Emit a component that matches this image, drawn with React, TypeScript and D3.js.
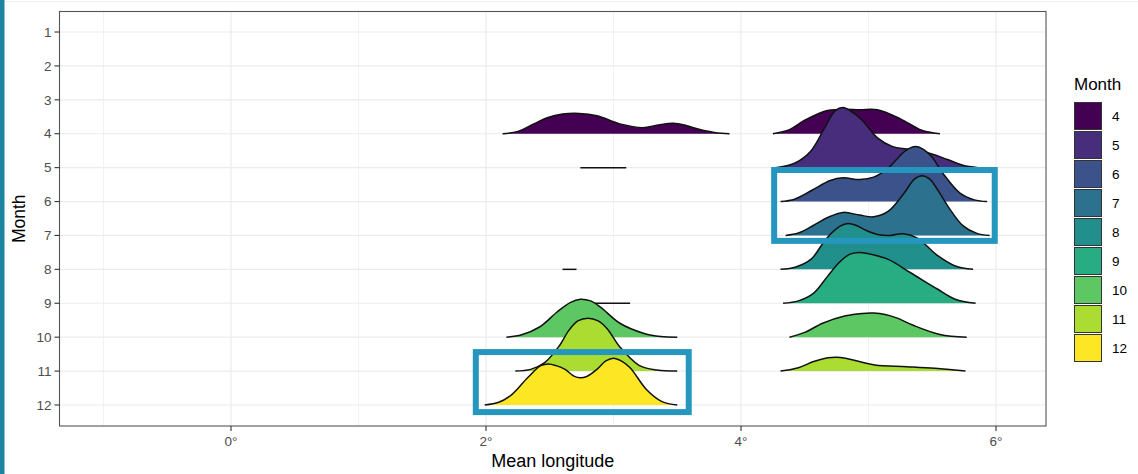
import React from "react";
import * as d3 from "d3";

// ---------- data ----------
const yLabels = ["1", "2", "3", "4", "5", "6", "7", "8", "9", "10", "11", "12"];
const legendMonths = [4, 5, 6, 7, 8, 9, 10, 11, 12];
const xMajorTicks = [0, 2, 4, 6];
const xMinorTicks = [-1, 1, 3, 5];

// each ridge: [longitude (deg), height (in month-row units)]
const m4Left: [number, number][] = [[2.13, 0], [2.25, 0.07], [2.38, 0.3], [2.48, 0.47], [2.6, 0.58], [2.73, 0.6], [2.87, 0.53], [3.05, 0.29], [3.23, 0.18], [3.35, 0.26], [3.47, 0.31], [3.57, 0.24], [3.67, 0.13], [3.8, 0.03], [3.91, 0]];
const m4Right: [number, number][] = [[4.25, 0], [4.38, 0.12], [4.5, 0.4], [4.67, 0.68], [4.8, 0.72], [4.93, 0.71], [5.07, 0.71], [5.25, 0.44], [5.4, 0.13], [5.5, 0.03], [5.56, 0]];
const m5Left: [number, number][] = [[2.74, 0], [3.1, 0]];
const m5Right: [number, number][] = [[4.27, 0], [4.42, 0.13], [4.55, 0.5], [4.66, 1.2], [4.74, 1.68], [4.8, 1.77], [4.86, 1.67], [4.95, 1.4], [5.07, 0.88], [5.19, 0.62], [5.3, 0.55], [5.44, 0.47], [5.62, 0.24], [5.74, 0.07], [5.86, 0]];
const m6Right: [number, number][] = [[4.31, 0], [4.42, 0.07], [4.56, 0.34], [4.7, 0.62], [4.8, 0.7], [4.93, 0.65], [5.04, 0.72], [5.15, 0.97], [5.26, 1.4], [5.32, 1.57], [5.37, 1.62], [5.42, 1.56], [5.5, 1.3], [5.58, 0.85], [5.72, 0.24], [5.83, 0.05], [5.93, 0]];
const m7Right: [number, number][] = [[4.35, 0], [4.45, 0.07], [4.57, 0.3], [4.68, 0.53], [4.8, 0.68], [4.93, 0.6], [5.04, 0.55], [5.15, 0.7], [5.27, 1.2], [5.36, 1.66], [5.42, 1.76], [5.48, 1.66], [5.55, 1.3], [5.63, 0.82], [5.74, 0.29], [5.85, 0.06], [5.95, 0]];
const m8Left: [number, number][] = [[2.6, 0], [2.71, 0]];
const m8Right: [number, number][] = [[4.31, 0], [4.43, 0.07], [4.55, 0.3], [4.67, 0.91], [4.78, 1.28], [4.84, 1.35], [4.9, 1.3], [4.98, 1.15], [5.07, 1.03], [5.17, 1.0], [5.27, 1.05], [5.38, 0.93], [5.54, 0.41], [5.68, 0.1], [5.82, 0]];
const m9Left: [number, number][] = [[2.72, 0], [3.13, 0]];
const m9Right: [number, number][] = [[4.33, 0], [4.45, 0.07], [4.57, 0.3], [4.68, 0.8], [4.77, 1.2], [4.85, 1.44], [4.92, 1.5], [5.0, 1.46], [5.15, 1.3], [5.33, 0.9], [5.54, 0.42], [5.68, 0.12], [5.84, 0]];
const m10Left: [number, number][] = [[2.16, 0], [2.28, 0.07], [2.42, 0.3], [2.56, 0.75], [2.66, 1.02], [2.74, 1.12], [2.82, 1.07], [2.9, 0.88], [3.05, 0.41], [3.24, 0.11], [3.37, 0.02], [3.5, 0]];
const m10Right: [number, number][] = [[4.38, 0], [4.5, 0.14], [4.64, 0.41], [4.82, 0.63], [4.95, 0.7], [5.04, 0.71], [5.13, 0.67], [5.22, 0.57], [5.35, 0.35], [5.56, 0.08], [5.77, 0]];
const m11Left: [number, number][] = [[2.23, 0], [2.35, 0.05], [2.46, 0.25], [2.57, 0.72], [2.65, 1.2], [2.72, 1.48], [2.8, 1.56], [2.88, 1.48], [2.95, 1.25], [3.05, 0.71], [3.2, 0.17], [3.34, 0.03], [3.5, 0]];
const m11Right: [number, number][] = [[4.31, 0], [4.45, 0.1], [4.57, 0.28], [4.68, 0.39], [4.75, 0.41], [4.82, 0.38], [4.92, 0.29], [5.05, 0.18], [5.3, 0.13], [5.52, 0.08], [5.76, 0]];
const m12Left: [number, number][] = [[1.99, 0], [2.1, 0.08], [2.2, 0.3], [2.33, 0.82], [2.43, 1.16], [2.49, 1.21], [2.55, 1.16], [2.62, 1.05], [2.69, 0.85], [2.74, 0.8], [2.79, 0.84], [2.87, 1.05], [2.94, 1.3], [3.0, 1.38], [3.06, 1.3], [3.13, 1.1], [3.26, 0.45], [3.38, 0.1], [3.5, 0]];

const ridgesByMonth: { month: number; groups: [number, number][][] }[] = [
  { month: 4, groups: [m4Left, m4Right] },
  { month: 5, groups: [m5Left, m5Right] },
  { month: 6, groups: [m6Right] },
  { month: 7, groups: [m7Right] },
  { month: 8, groups: [m8Left, m8Right] },
  { month: 9, groups: [m9Left, m9Right] },
  { month: 10, groups: [m10Left, m10Right] },
  { month: 11, groups: [m11Left, m11Right] },
  { month: 12, groups: [m12Left] },
];

// highlight boxes in data units: [lon0, lon1, month0, month1]
const highlightBoxes: [number, number, number, number][] = [
  [4.26, 5.99, 5.07, 7.16],
  [1.92, 3.59, 10.44, 12.21],
];

const viridis9 = ["#440154", "#472D7B", "#3B528B", "#2C728E", "#21908C", "#27AD81", "#5DC863", "#AADC32", "#FDE725"];

// ---------- layout ----------
const W = 1138;
const H = 474;
const panel = { left: 59.5, right: 1046, top: 11.5, bottom: 426 };
const FONT = "'Liberation Sans', Arial, Helvetica, sans-serif";

export default function App() {
  const x = d3.scaleLinear().domain([-1.345, 6.392]).range([panel.left, panel.right]);
  const y = d3.scaleLinear().domain([0.395, 12.62]).range([panel.top, panel.bottom]);
  const curve = d3.curveCatmullRom.alpha(0.5);

  const area = (month: number) =>
    d3
      .area<[number, number]>()
      .x((d) => x(d[0]))
      .y0(y(month))
      .y1((d) => y(month - d[1]))
      .curve(curve);
  const line = (month: number) =>
    d3
      .line<[number, number]>()
      .x((d) => x(d[0]))
      .y((d) => y(month - d[1]))
      .curve(curve);

  const colorFor = (m: number) => viridis9[legendMonths.indexOf(m)];

  return (
    <svg
      width={W}
      height={H}
      style={{ position: "absolute", left: 0, top: 0, background: "#fff" }}
      fontFamily={FONT}
    >
      <rect x={0} y={0} width={W} height={H} fill="#ffffff" />
      <line x1={5} x2={W} y1={1.5} y2={1.5} stroke="#f0f0f0" strokeWidth={1} />
      <rect x={0} y={0} width={4.5} height={H} fill="#1b84a0" />

      {/* gridlines */}
      {xMinorTicks.map((t) => (
        <line key={"mn" + t} x1={x(t)} x2={x(t)} y1={panel.top} y2={panel.bottom} stroke="#f2f2f2" strokeWidth={1} />
      ))}
      {xMajorTicks.map((t) => (
        <line key={"mj" + t} x1={x(t)} x2={x(t)} y1={panel.top} y2={panel.bottom} stroke="#ebebeb" strokeWidth={1.2} />
      ))}
      {yLabels.map((l, i) => (
        <line key={"hy" + l} x1={panel.left} x2={panel.right} y1={y(i + 1)} y2={y(i + 1)} stroke="#ebebeb" strokeWidth={1.2} />
      ))}

      {/* ridges */}
      {ridgesByMonth.map((r) => (
        <g key={"r" + r.month}>
          {r.groups.map((g, gi) =>
            g.length > 2 ? (
              <g key={gi}>
                <path d={area(r.month)(g) || ""} fill={colorFor(r.month)} stroke="none" />
                <path d={line(r.month)(g) || ""} fill="none" stroke="#111" strokeWidth={1.5} />
              </g>
            ) : (
              <path key={gi} d={line(r.month)(g) || ""} fill="none" stroke="#111" strokeWidth={1.5} />
            )
          )}
        </g>
      ))}

      {/* panel border */}
      <rect
        x={panel.left}
        y={panel.top}
        width={panel.right - panel.left}
        height={panel.bottom - panel.top}
        fill="none"
        stroke="#555"
        strokeWidth={1.1}
      />

      {/* y axis */}
      {yLabels.map((l, i) => (
        <g key={"yl" + l}>
          <line x1={panel.left - 5} x2={panel.left} y1={y(i + 1)} y2={y(i + 1)} stroke="#333" strokeWidth={1.1} />
          <text x={panel.left - 8} y={y(i + 1)} dy="0.35em" textAnchor="end" fontSize={13.5} fill="#4d4d4d">
            {l}
          </text>
        </g>
      ))}
      {/* x axis */}
      {xMajorTicks.map((t) => (
        <g key={"xl" + t}>
          <line x1={x(t)} x2={x(t)} y1={panel.bottom} y2={panel.bottom + 5} stroke="#333" strokeWidth={1.1} />
          <text x={x(t)} y={panel.bottom + 20} textAnchor="middle" fontSize={13.5} fill="#4d4d4d">
            {t + "°"}
          </text>
        </g>
      ))}
      <text x={(panel.left + panel.right) / 2} y={467} textAnchor="middle" fontSize={18} fill="#000">
        Mean longitude
      </text>
      <text
        transform={`translate(25,${(panel.top + panel.bottom) / 2}) rotate(-90)`}
        textAnchor="middle"
        fontSize={17.5}
        fill="#000"
      >
        Month
      </text>

      {/* highlight boxes */}
      {highlightBoxes.map((b, i) => (
        <rect
          key={"hb" + i}
          x={x(b[0])}
          y={y(b[2])}
          width={x(b[1]) - x(b[0])}
          height={y(b[3]) - y(b[2])}
          fill="none"
          stroke="#2596be"
          strokeWidth={6}
        />
      ))}

      {/* legend */}
      <text x={1074} y={90} fontSize={17} fill="#000">
        Month
      </text>
      {legendMonths.map((m, i) => (
        <g key={"lg" + m}>
          <rect x={1074.5} y={102.5 + i * 29} width={27} height={27} fill={viridis9[i]} stroke="#333" strokeWidth={1} />
          <text x={1112} y={116 + i * 29} dy="0.35em" fontSize={13.5} fill="#000">
            {m}
          </text>
        </g>
      ))}
    </svg>
  );
}
